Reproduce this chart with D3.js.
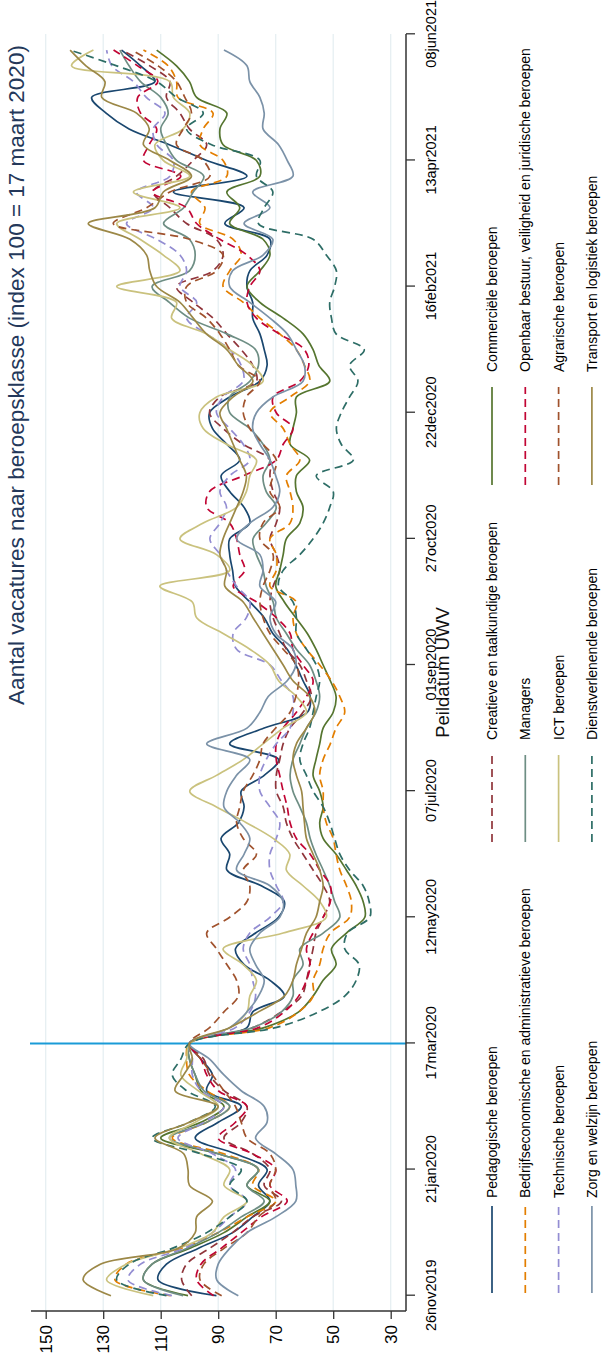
<!DOCTYPE html>
<html>
<head>
<meta charset="utf-8">
<script src="https://cdn.jsdelivr.net/npm/d3@7"></script>
<style>
  body { margin: 0; background: #fff; }
  svg text { font-family: Arial, "Liberation Sans", Helvetica, sans-serif; }
</style>
</head>
<body>
<div id="vis"></div>
<script>
// Vacatures per beroepsklasse, weekly index (100 = 17 maart 2020).
// Stata-style chart that is drawn landscape and then turned a quarter to the left.

// ── Data ────────────────────────────────────────────────────────────────────

const FIRST_WEEK = new Date(2019, 10, 26);   // 26nov2019, weekly to 01jun2021
const REF_DATE   = new Date(2020, 2, 17);

const DATE_TICKS  = d3.range(11).map(i => d3.timeDay.offset(FIRST_WEEK, 56 * i));
const VALUE_TICKS = [30, 50, 70, 90, 110, 130, 150];

const SERIES_NAMES = [
  "Pedagogische beroepen",
  "Creatieve en taalkundige beroepen",
  "Commerciële beroepen",
  "Bedrijfseconomische en administratieve beroepen",
  "Managers",
  "Openbaar bestuur, veiligheid en juridische beroepen",
  "Technische beroepen",
  "ICT beroepen",
  "Agrarische beroepen",
  "Zorg en welzijn beroepen",
  "Dienstverlenende beroepen",
  "Transport en logistiek beroepen",
];

const pedagogisch = [90.6,110.9,108,97,85,78,72,76,73,84, 98,90,82,94,92,96,100,80,78,67,
  72,81,84,77,69,67,75,87,86,89, 83,81,82,74,69,86,74,59,58,60.5, 63,66,71,74,79,84,85,86,86,79,
  81,86,89,82.5,87,92,93,86,75.5,73, 74,75.5,78,78,80,79,73,72,87.7,81, 105.6,80,94,107,121,129,134,112,117,123.6];
const creatief = [99.2,102.7,101,93,85,78,68,74,72,78, 88,82,80,88,93,95,100,78,68,61,
  59.3,58.2,57,56,53.5,51.2,53.5,57,60.5,64, 66.3,67.4,69.8,69.8,68.6,67.4,65,60.5,57.6,59.3, 61.6,66.3,68.6,70.9,72,70.9,68.6,69.8,72,69.8,
  68.6,70.9,72,72,81.3,88.3,93,89.4,76.7,78, 82,87,91.8,98.7,104.5,91.8,88.3,90.6,101,106.8, 112.6,104.5,98.7,94,100,103.3,108,106.8,113.8,123.6];
const commercieel = [100.5,116,113,100,88,80,72,80,76,90, 110,96,88,96,98,100,100,74,62,57,
  53.5,49,50.6,45.4,39,39.6,42,45.4,49,53.5, 54.7,53.5,54.7,57,56,54.7,53.5,50,49,51, 53.5,56,59,63,67,70,68.6,67.4,66.3,61.6,
  60.5,62.8,62.8,58.2,65,64,62.8,62.8,51.2,55, 57,60.5,67.4,75.5,80,75.5,72,74.4,86,82.5, 87,75.5,76.7,88.3,89.4,87,97.5,100,104.5,111.4];
const bedrijfseco = [106.5,125.9,122,103,90,80,70,78,76,88, 106,94,86,94,100,101,100,72,62,57,
  57,54.7,53.5,51,44.3,43.7,45.4,47.7,49,50, 52.4,53.5,53.5,54.7,53.5,51,49,46,47.7,50.6, 54.7,59.3,62.8,64,62.8,72,69.8,69.8,72,65,
  64,65,66.3,61.6,65,67.4,72,65,58.2,60, 62.8,68.6,75.5,81.3,88.3,86,82,84.8,96.4,94.6, 99.3,87,88.3,96.4,95.2,91.8,104,104.5,107.4,116];
const managers = [102.2,116,113,101,90,82,74,80,76,90, 107,94,86,95,98,100,100,78,68,64,
  64,60.5,61.6,53.5,47.7,49.5,51.2,53.5,56,58, 59.3,61.6,64,65,64,61.6,59.3,56,54.7,56, 58.2,62.8,66.3,69.8,70.9,73.3,74.4,76.7,77.9,73.3,
  69.8,73.3,74.4,72,74.4,79,86,86,79,76, 77,87,100,107,113,100,98,100,109,102, 98.7,95,104.5,108,110,107.4,110,117,121,124.2];
const openbaar = [91.6,97.5,96,89,82,75,66,72,70,78, 90,84,80,90,94,96,100,76,67,62,
  59.3,58,59.3,57,53.5,51,51,54.7,58,62.8, 65,66,67.4,68.6,69.8,69.8,67.4,62.8,59.3,57, 60.5,64,65,69.8,76.7,84.8,80.8,82.5,83.6,86,
  94,93,81.3,69.8,67.4,64,69.8,70.9,61.6,58.5, 60,68.8,76.7,80,79,75.5,80,89.4,97.5,101, 113,103,116,114,111.4,117,118,111,118,126.4];
const technisch = [106.1,121.4,117,102,92,86,80,86,84,92, 104,95,88,96,99,99,100,84,79,77,
  78,79,81.3,79,72,67.4,69.8,72,72,69.8, 68.6,72,75.5,75.5,73.3,69.8,65,64,64,68, 72,83.6,84.8,80.2,79,83.6,87.1,89.4,92.9,89.4,
  87.1,89.4,86,79,81.3,86,90.6,88.3,81.3,82, 86,94.1,101,97.5,103.3,101,103.3,111.4,121.9,112.6, 118.4,106.8,105.6,111.4,112.6,108.5,115,119.5,127,128.8];
const ict = [112.6,128.8,122,104,92,88,80,88,86,96, 107,98,90,97,103,101,100,86,80,79,
  76.7,81.3,88.3,67.4,52.4,54.7,60.5,66.3,65.1,70.9, 80.2,90.6,99.9,90.6,81.3,74.4,67.4,59.3,62.8,69, 72,79,88.3,97.5,99,110.3,86,90.6,103.3,95.2,
  83.6,80.2,79,76.7,87.1,95.2,96.4,90.6,74.4,78, 86,94.1,106.2,104.5,125.3,103.3,109.1,117.2,125.3,103.3, 119.5,99.9,109.1,112,102.2,99.9,105.6,106.8,141,133.4];
const agrarisch = [88.8,96.3,95,88,80,76,70,72,70,72, 80,82,84,88,92,96,100,93,88,83,
  83.6,87,90.6,94,86,80,79,81.3,76.7,81.3, 83.6,82.5,81.3,78,75.5,74.4,70,65,63,62, 62.8,67.4,72,74.4,75.5,74.4,72,70.9,75.5,74.4,
  68.6,72,70.9,69.8,74.4,79,81.3,80.2,75.5,83, 86,89.4,94.1,101,101,90.6,88.3,99.9,126.5,114.9, 106.8,92.9,95.2,104.5,102.2,99.3,101.6,104.5,110.9,120];
const zorg = [83,90.5,90,86,80,70,63,63,64,70, 77,73,74,82,88,93,100,86,80,76,
  74,77,79,75.5,68.6,67.4,72,83.6,81,79, 82.5,88,87,83.6,79,94,80,75.5,72.6,66, 63,64,70,72,70,75.5,74.4,75.5,83.6,79,
  71,68.6,70,72,75.5,78,76.7,71,60.5,60, 62.8,66,72,79,86,85,74.4,71,81,72, 78,64,66,69,74.4,74,75.5,79,80,88];
const dienstverlenend = [108,125.3,121,106,94,86,80,86,82,96, 113,100,91,101,106,103,100,70,55,46,
  42,41,46,45,37.3,37.5,39.6,44.3,47.7,49.5, 51.2,53.5,57,59.3,61.6,60.5,58.2,57,55.9,54.7, 55.9,59.3,62.8,62.8,64,69,67.4,61.6,57,53.5,
  51.2,50,55.9,43,47.2,48.9,47.2,44.3,41.4,44.3, 39.2,49,50.6,51.2,49.5,48.9,52.4,57,76,74, 71,76.7,75.5,92.3,101,95.2,104.5,111.4,125.3,141.5];
const transport = [127.3,137,131,104,98,97.5,92,100,100.5,102, 112,100,90,105,102,99,100,86,76,67,
  64,62.8,61,59.3,56,54.7,53.5,54.7,57,59.3, 60,60.5,61,62.8,64,62.8,59.3,56.4,58.2,64, 67.4,70.9,74.4,77.9,81.3,87.7,87.1,89.4,88.3,86,
  83.6,81.3,80.2,82.5,84.8,87.1,89.4,84.8,77.9,83, 87,94.1,98.7,103.3,111.4,113.8,114.9,120.7,135.2,112, 109.1,99.3,106.8,116,114,118.4,130.5,129.4,136,141.5];

const SERIES_VALUES = [pedagogisch, creatief, commercieel, bedrijfseco, managers, openbaar,
                       technisch, ict, agrarisch, zorg, dienstverlenend, transport];

// Stata s2color order; every other key dashed as in the legend
const COLORS = ["#1a476f", "#90353b", "#55752f", "#e37e00", "#6e8e84", "#c10534",
                "#938dd2", "#cac27e", "#a0522d", "#7b92a8", "#2d6d66", "#9c8847"];
const DASHED = [false, true, false, true, false, true, true, false, true, false, true, false];

// ── Layout (in the landscape frame, before rotating) ────────────────────────

const W = 1364, H = 602;
const plot = { left: 53, right: 1330, top: 31, bottom: 406 };

const svg = d3.select("#vis").append("svg")
  .attr("width", H)
  .attr("height", W);

const g = svg.append("g")
  .attr("transform", `translate(0,${W}) rotate(-90)`);

const x = d3.scaleTime()
  .domain([FIRST_WEEK, new Date(2021, 5, 8)])
  .range([68.3, 1329.7]);

const y = d3.scaleLinear()
  .domain([30, 150])
  .range([390.7, 45.7]);

// grid
g.append("g")
  .selectAll("line")
  .data(VALUE_TICKS)
  .join("line")
    .attr("x1", plot.left + 1).attr("x2", plot.right)
    .attr("y1", d => y(d)).attr("y2", d => y(d))
    .attr("stroke", "#e6eff2")
    .attr("stroke-width", 1.3);

// reference line 17mar2020
g.append("line")
  .attr("x1", x(REF_DATE)).attr("x2", x(REF_DATE))
  .attr("y1", plot.top - 1).attr("y2", plot.bottom)
  .attr("stroke", "#1a9bd7")
  .attr("stroke-width", 2);

// series
const line = d3.line()
  .x((d, i) => x(d3.timeDay.offset(FIRST_WEEK, 7 * i)))
  .y(d => y(d))
  .curve(d3.curveCatmullRom.alpha(0.5));

g.append("g")
  .selectAll("path")
  .data(SERIES_VALUES)
  .join("path")
    .attr("d", d => line(d))
    .attr("fill", "none")
    .attr("stroke", (d, i) => COLORS[i])
    .attr("stroke-width", 1.7)
    .attr("stroke-dasharray", (d, i) => DASHED[i] ? "8,5" : null)
    .attr("stroke-linejoin", "round");

// ── Axes ────────────────────────────────────────────────────────────────────

const AXIS_COLOR = "#333";

const yAxis = g.append("g")
  .attr("transform", `translate(${plot.left},0)`)
  .call(d3.axisLeft(y).tickValues(VALUE_TICKS).tickSize(8).tickPadding(6));
yAxis.select(".domain").remove();
yAxis.selectAll(".tick line").attr("stroke", AXIS_COLOR).attr("stroke-width", 1.3);
yAxis.selectAll("text")
  .style("font-size", "17px")
  .style("fill", "#000");
yAxis.append("line")
  .attr("y1", plot.top).attr("y2", plot.bottom)
  .attr("stroke", AXIS_COLOR).attr("stroke-width", 1.5);

const fmtDate = d => d3.timeFormat("%d%b%Y")(d).toLowerCase();

const xAxis = g.append("g")
  .attr("transform", `translate(0,${plot.bottom})`)
  .call(d3.axisBottom(x).tickValues(DATE_TICKS).tickFormat(fmtDate).tickSize(9).tickPadding(11));
xAxis.select(".domain").remove();
xAxis.selectAll(".tick line").attr("stroke", AXIS_COLOR).attr("stroke-width", 1.3);
xAxis.selectAll("text")
  .style("font-size", "14.5px")
  .style("fill", "#000");
xAxis.append("line")
  .attr("x1", plot.left).attr("x2", plot.right)
  .attr("stroke", AXIS_COLOR).attr("stroke-width", 1.5);

g.append("text")
  .attr("x", (plot.left + plot.right) / 2)
  .attr("y", 449)
  .attr("text-anchor", "middle")
  .style("font-size", "18.5px")
  .style("fill", "#111")
  .text("Peildatum UWV");

// title
g.append("text")
  .attr("x", 989)
  .attr("y", 24)
  .attr("text-anchor", "middle")
  .style("font-size", "22.5px")
  .style("fill", "#24385a")
  .text("Aantal vacatures naar beroepsklasse (index 100 = 17 maart 2020)");

// ── Legend: 3 columns, 4 rows ───────────────────────────────────────────────

const LEG_KEY_X0  = [71, 522, 879];    // key start per column
const LEG_KEY_X1  = [158, 609, 977];   // key end per column
const LEG_TEXT_X  = [166, 624, 992];   // label start per column
const LEG_ROW_Y0 = 492, LEG_ROW_STEP = 33.3;

const legend = g.append("g")
  .selectAll("g")
  .data(SERIES_NAMES)
  .join("g")
    .attr("transform", (d, i) => `translate(0,${LEG_ROW_Y0 + LEG_ROW_STEP * Math.floor(i / 3)})`);

legend.append("line")
  .attr("x1", (d, i) => LEG_KEY_X0[i % 3])
  .attr("x2", (d, i) => LEG_KEY_X1[i % 3])
  .attr("stroke", (d, i) => COLORS[i])
  .attr("stroke-width", 1.7)
  .attr("stroke-dasharray", (d, i) => DASHED[i] ? "8,5" : null);

legend.append("text")
  .attr("x", (d, i) => LEG_TEXT_X[i % 3])
  .attr("y", 5)
  .style("font-size", "14px")
  .style("fill", "#000")
  .text(d => d);
</script>
</body>
</html>
